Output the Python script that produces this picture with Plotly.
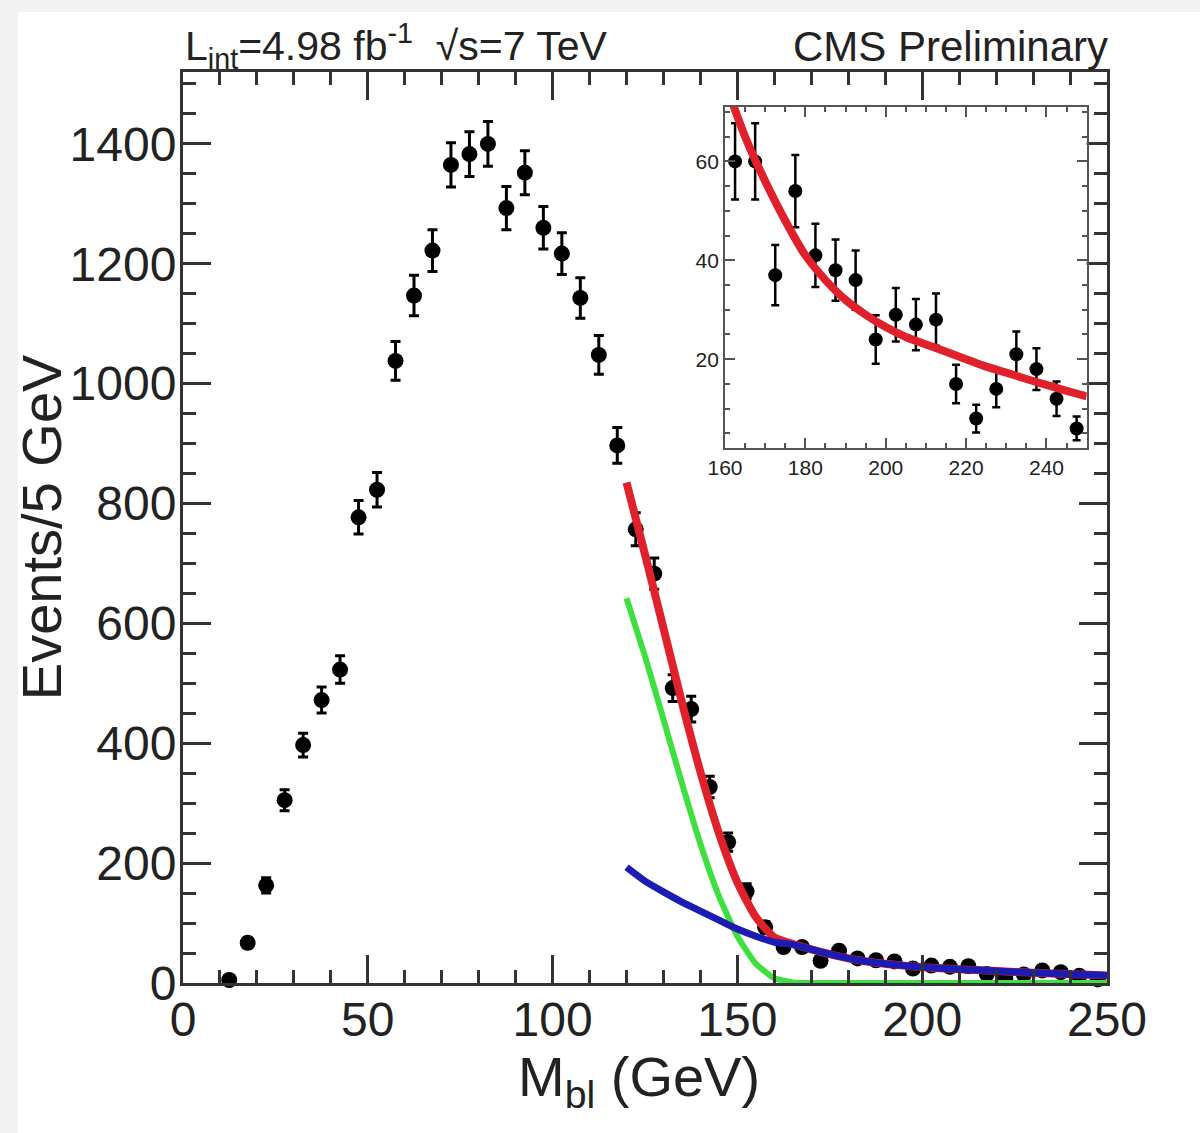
import plotly.graph_objects as go

# ---- data: M_bl distribution, 5 GeV bins ----
mbl_centres = [12.5, 17.5, 22.5, 27.5, 32.5, 37.5, 42.5, 47.5, 52.5, 57.5,
               62.5, 67.5, 72.5, 77.5, 82.5, 87.5, 92.5, 97.5, 102.5, 107.5,
               112.5, 117.5, 122.5, 127.5, 132.5, 137.5, 142.5, 147.5, 152.5, 157.5,
               162.5, 167.5, 172.5, 177.5, 182.5, 187.5, 192.5, 197.5, 202.5, 207.5,
               212.5, 217.5, 222.5, 227.5, 232.5, 237.5, 242.5, 247.5]
events = [5, 67, 163, 305, 397, 472, 523, 777, 823, 1038,
          1147, 1222, 1365, 1383, 1400, 1293, 1352, 1260, 1217, 1143,
          1048, 897, 757, 683, 492, 457, 327, 235, 153, 93,
          60, 60, 37, 54, 41, 38, 36, 24, 29, 27,
          28, 15, 8, 14, 21, 18, 12, 6]
stat_err = [2.2, 8.2, 12.8, 17.5, 19.9, 21.7, 22.9, 27.9, 28.7, 32.2,
            33.9, 35.0, 36.9, 37.2, 37.4, 36.0, 36.8, 35.5, 34.9, 33.8,
            32.4, 30.0, 27.5, 26.1, 22.2, 21.4, 18.1, 15.3, 12.4, 9.6,
            7.7, 7.7, 6.1, 7.3, 6.4, 6.2, 6.0, 4.9, 5.4, 5.2,
            5.3, 3.9, 2.8, 3.7, 4.6, 4.2, 3.5, 2.4]

# ---- fitted curves sampled along M_bl ----
fit_mbl = [120, 125, 130, 135, 140, 145, 150, 155, 160, 165,
           170, 175, 180, 185, 190, 195, 200, 205, 210, 215,
           220, 225, 230, 235, 240, 245, 250]
fit_total = [835, 715, 592, 468, 352, 250, 168, 110, 76, 65,
             56, 48, 41, 36, 32, 29, 26.5, 24.5, 23, 21.5,
             20, 18.5, 17.3, 16, 14.8, 13.6, 12.5]
fit_endpoint = [642, 545, 440, 333, 232, 145, 78, 32, 8, 1,
                0, 0, 0, 0, 0, 0, 0, 0, 0, 0,
                0, 0, 0, 0, 0, 0, 0]
fit_background = [193, 170, 152, 135, 120, 105, 90, 78, 68, 64,
                  56, 48, 41, 36, 32, 29, 26.5, 24.5, 23, 21.5,
                  20, 18.5, 17.3, 16, 14.8, 13.6, 12.5]

# inset zoom window
inset_min = 160
inset_x = [x for x in mbl_centres if x >= inset_min]
inset_y = [y for x, y in zip(mbl_centres, events) if x >= inset_min]
inset_e = [e for x, e in zip(mbl_centres, stat_err) if x >= inset_min]
inset_fx = [x for x in fit_mbl if x >= inset_min]
inset_fy = [y for x, y in zip(fit_mbl, fit_total) if x >= inset_min]

FONT = "Liberation Sans, Arial, Helvetica, sans-serif"
INK = "#222222"
RED = "#e0202a"
GREEN = "#3ee040"
BLUE = "#1c1cb4"

fig = go.Figure()

# main panel: data points
fig.add_trace(go.Scatter(
    x=mbl_centres, y=events, mode="markers",
    marker=dict(color="black", size=16),
    error_y=dict(type="data", array=stat_err, color="black", thickness=3, width=5),
    xaxis="x", yaxis="y", showlegend=False, cliponaxis=False))

# main panel: fit curves
fig.add_trace(go.Scatter(x=fit_mbl, y=fit_total, mode="lines",
                         line=dict(color=RED, width=8, shape="spline", smoothing=0.6),
                         xaxis="x", yaxis="y", showlegend=False))
fig.add_trace(go.Scatter(x=fit_mbl, y=fit_endpoint, mode="lines",
                         line=dict(color=GREEN, width=6, shape="spline", smoothing=0.5),
                         xaxis="x", yaxis="y", showlegend=False))
fig.add_trace(go.Scatter(x=fit_mbl, y=fit_background, mode="lines",
                         line=dict(color=BLUE, width=7, shape="spline", smoothing=0.6),
                         xaxis="x", yaxis="y", showlegend=False))

# inset: tail region
fig.add_trace(go.Scatter(
    x=inset_x, y=inset_y, mode="markers",
    marker=dict(color="black", size=14),
    error_y=dict(type="data", array=inset_e, color="black", thickness=2.5, width=4),
    xaxis="x2", yaxis="y2", showlegend=False))
fig.add_trace(go.Scatter(x=inset_fx, y=inset_fy, mode="lines",
                         line=dict(color=RED, width=8, shape="spline", smoothing=0.7),
                         xaxis="x2", yaxis="y2", showlegend=False))

axis_common = dict(showline=True, linecolor="#333333", linewidth=3, mirror="ticks",
                   ticks="inside", tickcolor="#333333", tickwidth=3, ticklen=28,
                   showgrid=False, zeroline=False,
                   tickfont=dict(family=FONT, size=48, color=INK))

inset_common = dict(showline=True, linecolor="#555555", linewidth=2, mirror="ticks",
                    ticks="inside", tickcolor="#555555", tickwidth=2, ticklen=10,
                    showgrid=False, zeroline=False,
                    tickfont=dict(family=FONT, size=21, color=INK))

fig.update_layout(
    width=1200, height=1133,
    margin=dict(l=183, r=93, t=72, b=150),
    paper_bgcolor="#f2f2f2", plot_bgcolor="white",
    font=dict(family=FONT, color=INK),
    xaxis=dict(range=[0, 250], dtick=50, tick0=0, domain=[0, 1],
               ticklabelstandoff=-8,
               minor=dict(dtick=10, ticks="inside", ticklen=13, tickwidth=2.5,
                          tickcolor="#333333", showgrid=False),
               **axis_common),
    yaxis=dict(range=[0, 1520], dtick=200, tick0=0, domain=[0, 1],
               ticklabelstandoff=-6,
               minor=dict(dtick=50, ticks="inside", ticklen=13, tickwidth=2.5,
                          tickcolor="#333333", showgrid=False),
               **axis_common),
    xaxis2=dict(range=[160, 250], dtick=20, tick0=160, domain=[0.5866, 0.978],
                anchor="y2",
                minor=dict(dtick=5, ticks="inside", ticklen=5, tickwidth=1.5,
                           tickcolor="#555555", showgrid=False),
                **inset_common),
    yaxis2=dict(range=[2, 71], dtick=20, tick0=0, domain=[0.587, 0.9616],
                anchor="x2",
                minor=dict(dtick=5, ticks="inside", ticklen=5, tickwidth=1.5,
                           tickcolor="#555555", showgrid=False),
                **inset_common),
    shapes=[dict(type="rect", xref="paper", yref="paper", layer="below",
                 x0=-0.1786, x1=1.2, y0=-0.2, y1=1.0659,
                 fillcolor="white", line=dict(width=0))],
    annotations=[
        dict(text="Events/5 GeV", xref="paper", yref="paper", x=-0.153, y=0.5,
             textangle=-90, showarrow=False, xanchor="center", yanchor="middle",
             font=dict(family=FONT, size=56, color=INK)),
        dict(text="M<sub>bl</sub> (GeV)", xref="paper", yref="paper", x=0.493, y=-0.107,
             showarrow=False, xanchor="center", yanchor="middle",
             font=dict(family=FONT, size=56, color=INK)),
        dict(text="L<sub>int</sub>=4.98 fb<sup>-1</sup>  √s=7 TeV", xref="paper", yref="paper",
             x=0.0, y=1.028, showarrow=False, xanchor="left", yanchor="middle",
             font=dict(family=FONT, size=41, color=INK)),
        dict(text="CMS Preliminary", xref="paper", yref="paper",
             x=1.003, y=1.028, showarrow=False, xanchor="right", yanchor="middle",
             font=dict(family=FONT, size=42, color=INK)),
    ],
)

fig.write_html("out.html")
